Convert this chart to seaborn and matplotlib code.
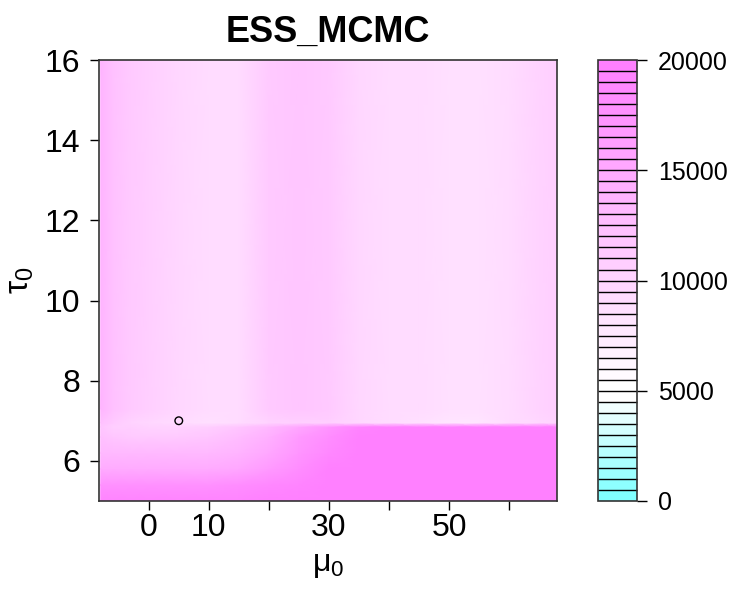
import numpy as np
import seaborn as sns
import matplotlib.pyplot as plt
from matplotlib.colors import ListedColormap, BoundaryNorm, hsv_to_rgb

# grid (mu0 columns, tau0 rows)
mu0 = [-8, -6, -3, 0, 5, 10, 15, 20, 25, 30, 35, 40, 45, 50, 55, 60, 65, 68]
tau0 = [5.0, 5.4, 5.8, 6.2, 6.6, 6.85, 6.95, 7.3, 16.0]

ess_5_0 = [19000, 19000, 19000, 19000, 19000, 19000, 19300, 19800, 19800, 19800, 19800, 19800, 19800, 19800, 19800, 19800, 19800, 19800]
ess_5_4 = [17500, 17500, 17500, 17500, 17500, 17500, 18000, 18500, 19300, 19800, 19800, 19800, 19800, 19800, 19800, 19800, 19800, 19800]
ess_5_8 = [14500, 14500, 14500, 14500, 14500, 14500, 15000, 16500, 18000, 19500, 19800, 19800, 19800, 19800, 19800, 19800, 19800, 19800]
ess_6_2 = [13000, 13000, 13000, 13000, 13000, 13000, 13500, 15000, 17000, 18500, 19500, 19800, 19800, 19800, 19800, 19800, 19800, 19800]
ess_6_6 = [12000, 11500, 11300, 11200, 11300, 11500, 12500, 14000, 16500, 18000, 19500, 19800, 19800, 19800, 19800, 19800, 19800, 19800]
ess_6_85 = [11500, 10800, 10500, 10300, 10300, 10500, 11500, 13000, 15000, 17000, 19300, 19500, 19500, 19500, 19500, 19500, 19500, 19500]
ess_6_95 = [12000, 11000, 10000, 9500, 9000, 8800, 9000, 10000, 10500, 10500, 9500, 9000, 8800, 8400, 8400, 9000, 9800, 10300]
ess_top = [13500, 12000, 11000, 10500, 9500, 9000, 9200, 11000, 11800, 11000, 9800, 9300, 9000, 8600, 8600, 9200, 10000, 10500]

levels = list(range(0, 20001, 500))
cbar_ticks = [0, 5000, 10000, 15000, 20000]
x_ticks = [0, 10, 20, 30, 40, 50, 60]
x_labels = ['0', '10', '', '30', '', '50', '']
y_ticks = [6, 8, 10, 12, 14, 16]
point_mu, point_tau = [5], [7]

sns.set_theme(style="white")
plt.rcParams['font.family'] = ['Liberation Sans', 'DejaVu Sans']
plt.rcParams['mathtext.fontset'] = 'custom'
plt.rcParams['mathtext.rm'] = 'Liberation Sans'
plt.rcParams['mathtext.it'] = 'Liberation Sans'
plt.rcParams['text.color'] = 'black'
plt.rcParams['axes.labelcolor'] = 'black'

# cyan -> white (10 bins), white -> magenta (30 bins)
cyan = [hsv_to_rgb((0.5, s, 1)) for s in np.linspace(0.5, 0, 10)]
pink = [hsv_to_rgb((10 / 12, s, 1)) for s in np.linspace(0, 0.5, 30)]
cmap = ListedColormap(cyan + pink)
norm = BoundaryNorm(levels, cmap.N)

Z = np.array([ess_5_0, ess_5_4, ess_5_8, ess_6_2, ess_6_6, ess_6_85, ess_6_95, ess_top, ess_top])

fig = plt.figure(figsize=(7.38, 6.02), dpi=100)
ax = fig.add_axes([0.134, 0.168, 0.621, 0.732])
cax = fig.add_axes([0.810, 0.168, 0.053, 0.732])

mesh = ax.pcolormesh(mu0, tau0, Z, cmap=cmap, norm=norm, shading='gouraud')
sns.scatterplot(x=point_mu, y=point_tau, ax=ax, s=30, facecolor='none',
                edgecolor='black', linewidth=1, marker='o', zorder=5)

ax.set_xlim(-8.3, 68)
ax.set_ylim(5, 16)
ax.set_xticks(x_ticks)
ax.set_xticklabels(x_labels)
ax.set_yticks(y_ticks)
ax.tick_params(direction='out', length=6.5, width=1, colors='black',
               labelsize=23, bottom=True, left=True)
ax.tick_params(axis='x', pad=2)
ax.tick_params(axis='y', pad=7)
for sp in ax.spines.values():
    sp.set_color('#333333')
    sp.set_linewidth(1.2)
ax.set_xlabel(r'$\mu_0$', fontsize=23, labelpad=5)
ax.set_ylabel(r'$\tau_0$', fontsize=24, labelpad=6)
ax.set_title('ESS_MCMC', fontsize=26, fontweight='bold', pad=13)

cbar = fig.colorbar(mesh, cax=cax, ticks=cbar_ticks, drawedges=True)
cbar.minorticks_off()
cbar.dividers.set_color('black')
cbar.dividers.set_linewidth(1)
cbar.outline.set_edgecolor('#333333')
cbar.outline.set_linewidth(1.2)
cax.tick_params(direction='out', length=7, width=1, colors='black',
                labelsize=18, right=True, pad=8)

fig.savefig('out.png', dpi=100)
